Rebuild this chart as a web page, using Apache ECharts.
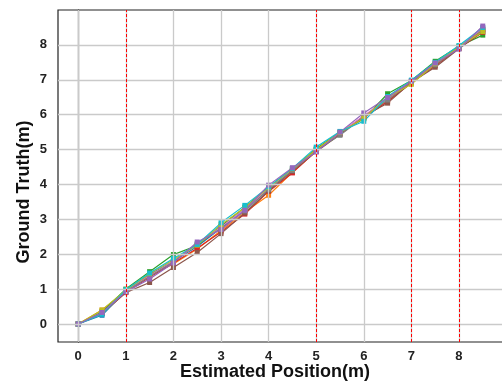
<!DOCTYPE html>
<html>
<head>
<meta charset="utf-8">
<script src="https://cdn.jsdelivr.net/npm/echarts@6/dist/echarts.min.js"></script>
<style>
  html, body { margin: 0; padding: 0; background: #fff; }
  #chart { width: 502px; height: 382px; }
</style>
</head>
<body>
<div id="chart"></div>
<script>
// estimated positions (x)
var positions = [0, 0.5, 1, 1.5, 2, 2.5, 3, 3.5, 4, 4.5, 5, 5.5, 6, 6.5, 7, 7.5, 8, 8.5];
var tickValues = [0, 1, 2, 3, 4, 5, 6, 7, 8];
var markerLines = [1, 5, 7, 8];

// ground truth per run
var run1 = [0, 0.25, 0.95, 1.42, 1.80, 2.22, 2.75, 3.30, 3.85, 4.40, 4.98, 5.48, 5.95, 6.45, 6.95, 7.45, 7.95, 8.45];
var run2 = [0, 0.40, 0.93, 1.40, 1.72, 2.15, 2.68, 3.20, 3.69, 4.35, 4.95, 5.47, 5.92, 6.40, 6.90, 7.42, 7.92, 8.44];
var run3 = [0, 0.35, 1.00, 1.50, 1.99, 2.25, 2.80, 3.35, 3.92, 4.45, 5.02, 5.50, 5.88, 6.60, 6.98, 7.53, 7.96, 8.28];
var run4 = [0, 0.30, 0.90, 1.34, 1.75, 2.17, 2.64, 3.15, 3.80, 4.33, 4.96, 5.45, 5.91, 6.38, 6.92, 7.40, 7.90, 8.36];
var run5 = [0, 0.33, 0.92, 1.29, 1.75, 2.35, 2.71, 3.26, 3.98, 4.48, 4.93, 5.50, 6.05, 6.49, 6.96, 7.48, 7.88, 8.54];
var run6 = [0, 0.30, 0.90, 1.19, 1.62, 2.05, 2.59, 3.18, 3.82, 4.38, 4.94, 5.43, 5.96, 6.33, 6.93, 7.36, 7.89, 8.40];
var run7 = [0, 0.32, 0.95, 1.38, 1.80, 2.28, 2.78, 3.28, 3.88, 4.42, 4.97, 5.48, 5.97, 6.45, 6.95, 7.45, 7.93, 8.48];
var run8 = [0, 0.31, 0.94, 1.36, 1.78, 2.31, 2.74, 3.24, 3.86, 4.40, 4.99, 5.41, 5.94, 6.42, 6.94, 7.43, 7.92, 8.42];
var run9 = [0, 0.40, 0.97, 1.44, 1.84, 2.26, 2.85, 3.33, 3.91, 4.45, 5.00, 5.49, 5.90, 6.50, 6.87, 7.46, 7.95, 8.38];
var run10 = [0, 0.28, 0.98, 1.46, 1.88, 2.28, 2.90, 3.40, 3.93, 4.46, 5.07, 5.52, 5.81, 6.52, 6.99, 7.50, 7.98, 8.50];

// drawing order: purple run last so it sits on top
var runs = [run1, run2, run3, run4, run6, run7, run8, run9, run10, run5];
var colors = ['#1f77b4', '#ff7f0e', '#2ca02c', '#d62728', '#8c564b',
              '#e377c2', '#7f7f7f', '#bcbd22', '#17becf', '#9467bd'];

var font = '"Liberation Sans", Arial, sans-serif';
var chart = echarts.init(document.getElementById('chart'));

function pairs(ys) {
  return positions.map(function (x, i) { return [x, ys[i]]; });
}

var gridStyle = { color: '#cacaca', width: 1.3, type: 'solid' };
var redStyle = { color: '#ff0000', width: 1, type: [3, 2], opacity: 1 };

var series = [];
// grid lines, drawn under everything
series.push({
  type: 'line',
  data: [],
  silent: true,
  z: 1,
  markLine: {
    silent: true,
    symbol: 'none',
    animation: false,
    label: { show: false },
    lineStyle: gridStyle,
    data: tickValues.map(function (v) { return { xAxis: v, lineStyle: gridStyle }; })
      .concat(tickValues.map(function (v) { return { yAxis: v, lineStyle: gridStyle }; }))
  }
});
// red dashed reference lines
series.push({
  type: 'line',
  data: [],
  silent: true,
  z: 2,
  color: '#ff0000',
  markLine: {
    silent: true,
    symbol: 'none',
    animation: false,
    label: { show: false },
    lineStyle: redStyle,
    data: markerLines.map(function (v) { return { xAxis: v, lineStyle: redStyle }; })
  }
});
runs.forEach(function (r, i) {
  series.push({
    type: 'line',
    data: pairs(r),
    z: 3,
    symbol: 'rect',
    symbolSize: 5,
    showSymbol: true,
    lineStyle: { color: colors[i], width: 1.2 },
    itemStyle: { color: colors[i] }
  });
});

var option = {
  animation: false,
  grid: {
    left: 58, top: 10, right: -1, bottom: 40,
    show: true, borderColor: '#222', borderWidth: 1.2,
    containLabel: false,
    outerBoundsMode: 'none'
  },
  xAxis: {
    type: 'value',
    min: -0.425,
    max: 8.925,
    name: 'Estimated Position(m)',
    nameLocation: 'middle',
    nameGap: 21,
    nameMoveOverlap: false,
    nameTextStyle: { fontFamily: font, fontWeight: 'bold', fontSize: 18, color: '#111', padding: [0, 11, 0, 0] },
    axisLine: { show: true, lineStyle: { color: '#444', width: 1.2 } },
    axisTick: { show: true, length: 4, customValues: tickValues, lineStyle: { color: '#222' } },
    axisLabel: { customValues: tickValues, margin: 8, fontFamily: font, fontWeight: 'bold', fontSize: 13, color: '#222' },
    splitLine: { show: false }
  },
  yAxis: {
    type: 'value',
    min: -0.516,
    max: 9.0,
    name: 'Ground Truth(m)',
    nameLocation: 'middle',
    nameGap: 25,
    nameMoveOverlap: false,
    nameTextStyle: { fontFamily: font, fontWeight: 'bold', fontSize: 18, color: '#111', padding: [0, 32, 0, 0] },
    axisLine: { show: true, lineStyle: { color: '#222', width: 1.2 } },
    axisTick: { show: true, length: 5, customValues: tickValues, lineStyle: { color: '#222' } },
    axisLabel: { customValues: tickValues, margin: 11, fontFamily: font, fontWeight: 'bold', fontSize: 13, color: '#222' },
    splitLine: { show: false }
  },
  series: series
};
chart.setOption(option);
</script>
</body>
</html>
